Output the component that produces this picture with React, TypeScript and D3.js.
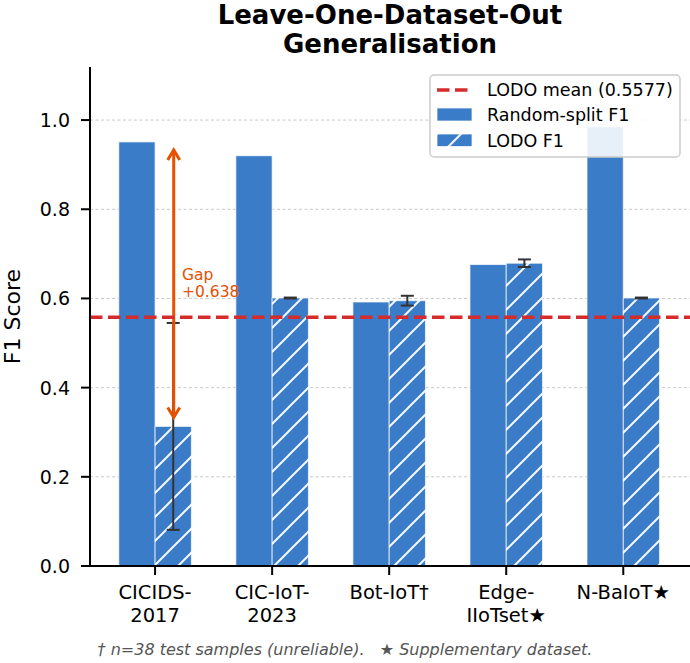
import React from 'react';
import * as d3 from 'd3';

// chart data
const datasets = [['CICIDS-', '2017'], ['CIC-IoT-', '2023'], ['Bot-IoT†'], ['Edge-', 'IIoTset★'], ['N-BaIoT★']];
const randomF1 = [0.951, 0.92, 0.592, 0.676, 0.985];
const lodoF1 = [0.313, 0.601, 0.595, 0.679, 0.601];
const lodoErr = [0.232, 0.001, 0.011, 0.0085, 0.001];
const lodoMean = 0.5577;
const yTicks = [0, 0.2, 0.4, 0.6, 0.8, 1.0];
const gapIndex = 0;

const W = 690;
const H = 663;
const margin = { left: 90, right: 0, top: 67, bottom: 97 };

const BAR = '#3b7cc8';
const ORANGE = '#e65100';
const RED = '#d62b2b';
const FONT = '"DejaVu Sans", sans-serif';

const App: React.FC = () => {
    const x = d3.scaleLinear().domain([-0.556, 4.57]).range([margin.left, W - margin.right]);
    const y = d3.scaleLinear().domain([0, 1.119]).range([H - margin.bottom, margin.top]);
    const bw = x(0.31) - x(0);
    const y0 = y(0);

    // arrow between LODO and random for the gap
    const ax = x(gapIndex) + bw / 2 + 0.5;
    const aTop = y(randomF1[gapIndex]) + 8;
    const aBot = y(lodoF1[gapIndex]) - 9;
    const gap = randomF1[gapIndex] - lodoF1[gapIndex];

    return (
        <svg width={W} height={H} style={{ position: 'absolute', left: 0, top: 0, fontFamily: FONT }}>
            <defs>
                <pattern id="hatch" patternUnits="userSpaceOnUse" width={24} height={24}>
                    <rect width={24} height={24} fill={BAR} />
                    <path d="M-6,6 L6,-6 M0,24 L24,0 M18,30 L30,18" stroke="#f4f7fc" strokeWidth={2} />
                </pattern>
                <pattern id="hatchLeg" patternUnits="userSpaceOnUse" width={24} height={24} x={437} y={134}>
                    <rect width={24} height={24} fill={BAR} />
                    <path d="M-6,6 L6,-6 M0,24 L24,0 M18,30 L30,18" stroke="#f4f7fc" strokeWidth={2} />
                </pattern>
            </defs>

            {/* title */}
            <text x={390} y={24} textAnchor="middle" fontSize={26} fontWeight="bold">Leave-One-Dataset-Out</text>
            <text x={390} y={53} textAnchor="middle" fontSize={26} fontWeight="bold">Generalisation</text>

            {/* grid */}
            {yTicks.slice(1).map(t => (
                <line key={t} x1={margin.left} x2={W} y1={y(t)} y2={y(t)}
                    stroke="#c8c8c8" strokeWidth={1} strokeDasharray="3,2.5" />
            ))}

            {/* bars */}
            {randomF1.map((v, i) => (
                <rect key={'r' + i} x={x(i) - bw} y={y(v)} width={bw} height={y0 - y(v)}
                    fill={BAR} stroke="#ffffff" strokeOpacity={0.7} strokeWidth={1} />
            ))}
            {lodoF1.map((v, i) => (
                <rect key={'l' + i} x={x(i)} y={y(v)} width={bw} height={y0 - y(v)}
                    fill="url(#hatch)" stroke="#ffffff" strokeOpacity={0.7} strokeWidth={1} />
            ))}

            {/* error bars */}
            {lodoF1.map((v, i) => {
                const cx = x(i) + bw / 2;
                const hi = y(v + lodoErr[i]);
                const lo = y(v - lodoErr[i]);
                return (
                    <g key={'e' + i} stroke="#333" strokeWidth={2}>
                        <line x1={cx} x2={cx} y1={hi} y2={lo} />
                        <line x1={cx - 6.5} x2={cx + 6.5} y1={hi} y2={hi} />
                        <line x1={cx - 6.5} x2={cx + 6.5} y1={lo} y2={lo} />
                    </g>
                );
            })}

            {/* gap arrow */}
            <g stroke={ORANGE} strokeWidth={3} fill="none" strokeLinecap="butt">
                <line x1={ax} x2={ax} y1={aTop} y2={aBot} />
                <path d={`M${ax - 6},${aTop + 10} L${ax},${aTop} L${ax + 6},${aTop + 10}`} />
                <path d={`M${ax - 6},${aBot - 10} L${ax},${aBot} L${ax + 6},${aBot - 10}`} />
            </g>
            <text x={182} y={280} fontSize={15.5} fill={ORANGE}>Gap</text>
            <text x={182} y={297} fontSize={15.5} fill={ORANGE}>{`+${gap.toFixed(3)}`}</text>

            {/* LODO mean */}
            <line x1={margin.left} x2={W} y1={y(lodoMean)} y2={y(lodoMean)}
                stroke={RED} strokeWidth={3.5} strokeDasharray="12.5,5.5" />

            {/* axes */}
            <line x1={margin.left} x2={margin.left} y1={margin.top} y2={y0 + 1} stroke="#000" strokeWidth={2} />
            <line x1={margin.left - 1} x2={W} y1={y0} y2={y0} stroke="#000" strokeWidth={2} />
            {yTicks.map(t => (
                <g key={'yt' + t}>
                    <line x1={margin.left - 9} x2={margin.left} y1={y(t)} y2={y(t)} stroke="#000" strokeWidth={2} />
                    <text x={margin.left - 20} y={y(t) + 7} textAnchor="end" fontSize={19}>{t.toFixed(1)}</text>
                </g>
            ))}
            {datasets.map((lines, i) => (
                <g key={'xt' + i}>
                    <line x1={x(i)} x2={x(i)} y1={y0} y2={y0 + 9} stroke="#000" strokeWidth={2} />
                    {lines.map((s, j) => (
                        <text key={j} x={x(i)} y={599 + j * 23} textAnchor="middle" fontSize={19.5}>{s}</text>
                    ))}
                </g>
            ))}
            <text transform={`translate(20,${(margin.top + y0) / 2}) rotate(-90)`} textAnchor="middle" fontSize={22}>F1 Score</text>

            {/* legend */}
            <g>
                <rect x={430} y={75} width={250} height={82} rx={4} fill="#fff" fillOpacity={0.88} stroke="#cccccc" strokeWidth={1.5} />
                <line x1={437} x2={472} y1={90} y2={90} stroke={RED} strokeWidth={3.5} strokeDasharray="12.5,5.5" />
                <rect x={437} y={108} width={35} height={13} fill={BAR} stroke="#ffffff" strokeOpacity={0.7} />
                <rect x={437} y={134} width={35} height={12.5} fill="url(#hatchLeg)" stroke="#ffffff" strokeOpacity={0.7} />
                <text x={487} y={96} fontSize={17.5}>{`LODO mean (${lodoMean})`}</text>
                <text x={487} y={121} fontSize={17.5}>Random-split F1</text>
                <text x={487} y={147} fontSize={17.5}>LODO F1</text>
            </g>

            {/* footnote */}
            <text x={345} y={655} textAnchor="middle" fontSize={16} fontStyle="italic" fill="#555">
                † n=38 test samples (unreliable).{'\u00a0\u00a0\u00a0'}★ Supplementary dataset.
            </text>
        </svg>
    );
};

export default App;
